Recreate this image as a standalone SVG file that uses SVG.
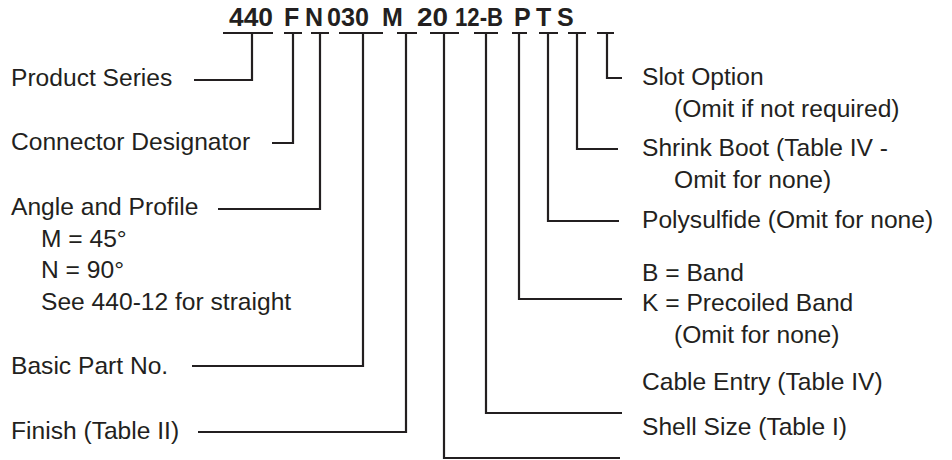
<svg xmlns="http://www.w3.org/2000/svg" width="952" height="460" viewBox="0 0 952 460">
<style>
text{font-family:"Liberation Sans",Arial,sans-serif;font-size:24.6px;fill:#231f20}
.code{font-weight:bold;font-size:25px}
.ln{fill:none;stroke:#231f20;stroke-width:2.2;stroke-linecap:butt;stroke-linejoin:miter}
</style>
<rect width="952" height="460" fill="#fff"/>
<g id="code">
<text class="code" x="229" y="26" textLength="44" lengthAdjust="spacingAndGlyphs">440</text>
<text class="code" x="284" y="26">F</text>
<text class="code" x="305" y="26">N</text>
<text class="code" x="327" y="26" textLength="42" lengthAdjust="spacingAndGlyphs">030</text>
<text class="code" x="382" y="26">M</text>
<text class="code" x="417" y="26" textLength="31" lengthAdjust="spacingAndGlyphs">20</text>
<text class="code" x="455" y="26" textLength="48" lengthAdjust="spacingAndGlyphs">12-B</text>
<text class="code" x="514" y="26">P</text>
<text class="code" x="536" y="26">T</text>
<text class="code" x="557" y="26">S</text>
</g>
<g id="connectors">
<path class="ln" d="M223 33H273M284 33H302M311 33H329M339 33H383M397 33H417M430 33H459M474 33H498M512 33H527M539 33H558M568 33H586M597 33H614"/>
<path class="ln" d="M252 33V80H194"/>
<path class="ln" d="M293 33V143H272"/>
<path class="ln" d="M320 33V209H218"/>
<path class="ln" d="M363 33V366H192"/>
<path class="ln" d="M406 33V432H198"/>
<path class="ln" d="M444 33V458H620"/>
<path class="ln" d="M486 33V413H622"/>
<path class="ln" d="M519 33V299H622"/>
<path class="ln" d="M548 33V221H619"/>
<path class="ln" d="M577 33V149H618"/>
<path class="ln" d="M607 33V78H622"/>
</g>
<g id="product-series"><text x="11" y="86">Product Series</text></g>
<g id="connector-designator"><text x="11" y="150">Connector Designator</text></g>
<g id="angle-profile">
<text x="11" y="215">Angle and Profile</text>
<text x="41" y="247">M = 45°</text>
<text x="41" y="278">N = 90°</text>
<text x="41" y="310">See 440-12 for straight</text>
</g>
<g id="basic-part"><text x="11" y="374">Basic Part No.</text></g>
<g id="finish"><text x="11" y="439">Finish (Table II)</text></g>
<g id="slot-option">
<text x="642" y="85">Slot Option</text>
<text x="674" y="117">(Omit if not required)</text>
</g>
<g id="shrink-boot">
<text x="642" y="156">Shrink Boot (Table IV -</text>
<text x="674" y="188">Omit for none)</text>
</g>
<g id="polysulfide"><text x="642" y="228">Polysulfide (Omit for none)</text></g>
<g id="band">
<text x="642" y="281">B = Band</text>
<text x="642" y="311">K = Precoiled Band</text>
<text x="674" y="343">(Omit for none)</text>
</g>
<g id="cable-entry"><text x="642" y="390">Cable Entry (Table IV)</text></g>
<g id="shell-size"><text x="642" y="435">Shell Size (Table I)</text></g>
</svg>
